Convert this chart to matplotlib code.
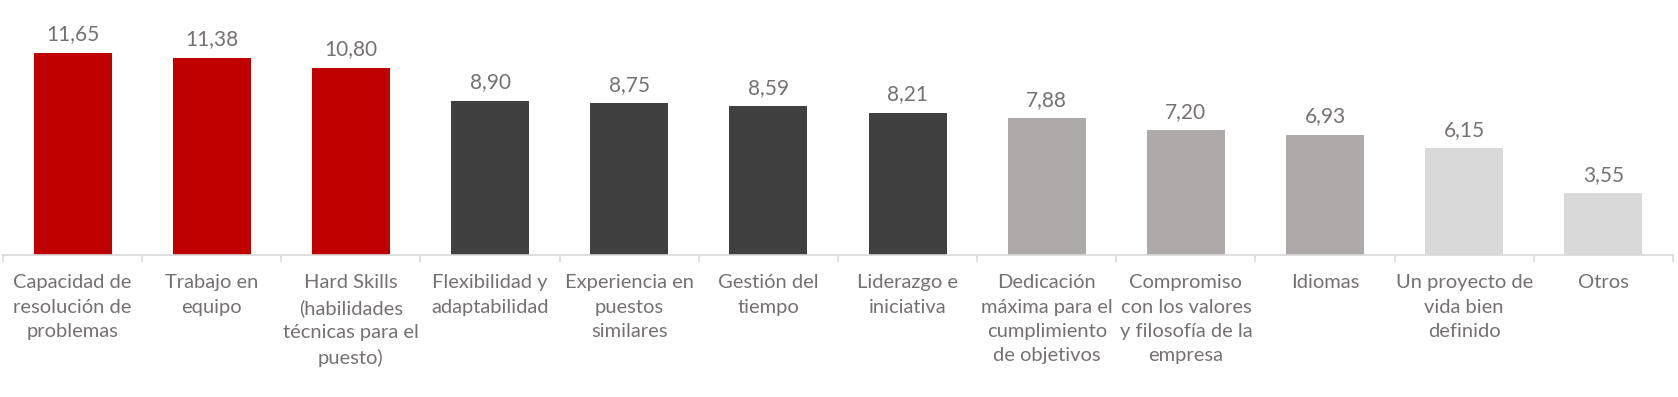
import matplotlib
matplotlib.use("Agg")
import matplotlib.pyplot as plt

categories = [
    "Capacidad de\nresolución de\nproblemas",
    "Trabajo en\nequipo",
    "Hard Skills\n(habilidades\ntécnicas para el\npuesto)",
    "Flexibilidad y\nadaptabilidad",
    "Experiencia en\npuestos\nsimilares",
    "Gestión del\ntiempo",
    "Liderazgo e\niniciativa",
    "Dedicación\nmáxima para el\ncumplimiento\nde objetivos",
    "Compromiso\ncon los valores\ny filosofía de la\nempresa",
    "Idiomas",
    "Un proyecto de\nvida bien\ndefinido",
    "Otros",
]
values = [11.65, 11.38, 10.80, 8.90, 8.75, 8.59, 8.21, 7.88, 7.20, 6.93, 6.15, 3.55]
groups = ["red", "red", "red", "dark", "dark", "dark", "dark", "mid", "mid", "mid", "light", "light"]
palette = {"red": "#C00000", "dark": "#404040", "mid": "#AEAAAA", "light": "#D9D9D9"}

plt.rcParams['font.family'] = ['Lato', 'DejaVu Sans']
text_color = "#767171"

fig = plt.figure(figsize=(16.78, 3.97), dpi=100)
ax = fig.add_axes([3/1678, 142/397, 1670/1678, 255/397])

x = list(range(len(values)))
ax.bar(x, values, width=0.56, color=[palette[g] for g in groups], zorder=2)
ax.set_xlim(-0.5, len(values) - 0.5)
ax.set_ylim(0, 14.7)

for xi, v in zip(x, values):
    ax.annotate(f"{v:.2f}".replace(".", ","), (xi, v), xytext=(0, 6), textcoords="offset points",
                ha="center", va="bottom", fontsize=15, color=text_color)

for s in ["top", "right", "left"]:
    ax.spines[s].set_visible(False)
ax.spines["bottom"].set_color("#D9D9D9")
ax.spines["bottom"].set_linewidth(1.2)
ax.set_yticks([])

ax.set_xticks([i - 0.5 for i in range(len(values) + 1)])
ax.set_xticklabels([])
ax.tick_params(axis="x", length=5, color="#D9D9D9", width=1.2)
ax.set_xticks(x, minor=True)
ax.set_xticklabels(categories, minor=True, fontsize=14.5, color=text_color, linespacing=1.52, va="top")
ax.tick_params(axis="x", which="minor", length=0, pad=14)

fig.savefig("out.png", dpi=100)
